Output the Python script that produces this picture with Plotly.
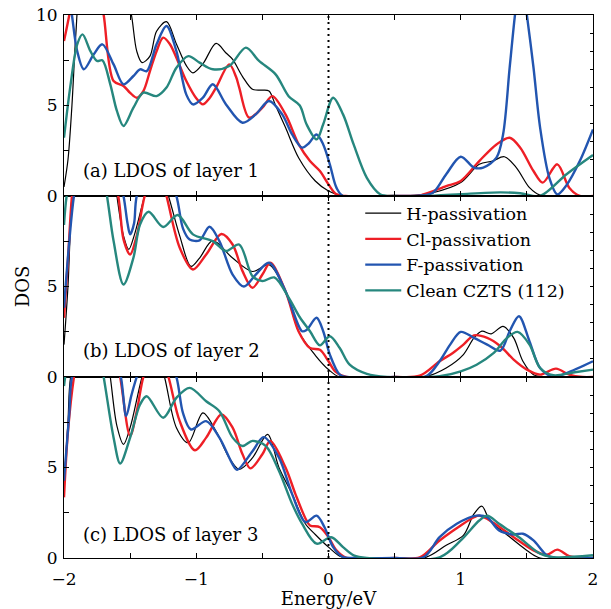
import plotly.graph_objects as go

# ---------------- data ----------------
series_names = ["H-passivation", "Cl-passivation", "F-passivation", "Clean CZTS (112)"]
panel_labels = ["(a) LDOS of layer 1", "(b) LDOS of layer 2", "(c) LDOS of layer 3"]

# Panel (a) layer 1
a_h_x = [-2.0, -1.97, -1.94, -1.91, -1.88, -1.7, -1.55, -1.49, -1.45, -1.41, -1.35, -1.3, -1.225, -1.15, -1.075, -1.025, -0.95, -0.85, -0.775, -0.725, -0.65, -0.575, -0.5, -0.45, -0.4, -0.325, -0.225, -0.1, 0.0, 0.1, 0.2, 0.5, 0.61, 0.79, 1.0, 1.14, 1.24, 1.33, 1.42, 1.52, 1.6, 1.7, 2.0]
a_h_y = [0.5, 2.0, 5.0, 9.0, 11.5, 16.0, 12.0, 10.0, 8.0, 7.37, 7.73, 9.1, 9.63, 8.4, 7.2, 6.8, 7.3, 8.43, 7.9, 7.55, 6.6, 5.9, 5.85, 5.8, 5.0, 3.78, 2.1, 0.83, 0.28, 0.02, 0.0, 0.0, 0.02, 0.18, 0.74, 1.75, 1.93, 2.17, 1.57, 0.46, 0.05, 0.0, 0.0]
a_cl_x = [-2.0, -1.96, -1.9, -1.8, -1.73, -1.7, -1.625, -1.55, -1.5, -1.45, -1.4, -1.35, -1.3, -1.25, -1.2, -1.15, -1.075, -1.0, -0.95, -0.9, -0.85, -0.75, -0.7, -0.675, -0.6, -0.5, -0.425, -0.325, -0.225, -0.14, -0.065, 0.0, 0.06, 0.13, 0.5, 0.7, 0.89, 1.0, 1.14, 1.27, 1.37, 1.45, 1.55, 1.62, 1.73, 1.82, 1.9, 2.0]
a_cl_y = [8.56, 10.0, 12.5, 13.0, 11.0, 10.0, 6.35, 6.08, 5.7, 5.43, 5.8, 6.9, 8.0, 8.75, 8.4, 7.64, 6.35, 5.4, 5.06, 5.4, 5.99, 7.27, 6.6, 5.99, 4.33, 4.88, 5.52, 4.51, 2.85, 1.93, 1.38, 0.64, 0.09, 0.0, 0.0, 0.05, 0.55, 0.83, 1.93, 2.85, 3.22, 2.67, 1.38, 0.74, 1.75, 0.46, 0.0, 0.0]
a_f_x = [-2.0, -1.96, -1.94, -1.9, -1.85, -1.775, -1.71, -1.625, -1.55, -1.475, -1.425, -1.375, -1.3, -1.225, -1.15, -1.075, -1.025, -0.95, -0.875, -0.775, -0.65, -0.55, -0.45, -0.35, -0.275, -0.2, -0.15, -0.09, -0.04, 0.01, 0.06, 0.11, 0.5, 0.7, 0.79, 0.89, 1.0, 1.1, 1.17, 1.27, 1.32, 1.37, 1.41, 1.455, 1.5, 1.55, 1.6, 1.67, 1.73, 1.8, 1.9, 2.0]
a_f_y = [12.0, 11.0, 10.0, 8.0, 7.0, 7.83, 8.38, 7.27, 6.17, 6.63, 7.0, 6.9, 8.38, 9.39, 8.0, 5.6, 5.06, 5.43, 6.17, 5.06, 4.05, 4.51, 5.25, 4.51, 3.4, 2.67, 2.9, 3.4, 2.85, 1.75, 0.46, 0.0, 0.0, 0.03, 0.18, 1.2, 2.17, 1.57, 1.57, 2.12, 3.4, 7.1, 10.0, 12.5, 10.0, 7.1, 3.78, 1.0, 0.09, 0.6, 1.93, 3.68]
a_c_x = [-2.0, -1.95, -1.9, -1.86, -1.8, -1.75, -1.71, -1.65, -1.6, -1.55, -1.475, -1.4, -1.3, -1.225, -1.15, -1.06, -0.975, -0.875, -0.75, -0.625, -0.525, -0.4, -0.3, -0.217, -0.166, -0.09, -0.04, 0.035, 0.11, 0.19, 0.29, 0.39, 0.5, 0.8, 1.0, 1.3, 1.45, 1.6, 1.8, 2.0]
a_c_y = [3.22, 6.17, 8.38, 8.93, 8.0, 7.46, 7.5, 6.17, 4.7, 3.87, 4.88, 5.71, 5.52, 5.99, 7.09, 7.73, 7.37, 7.0, 7.18, 8.2, 7.46, 6.72, 5.5, 5.0, 3.96, 3.13, 3.96, 5.43, 4.51, 2.85, 1.0, 0.1, 0.0, 0.02, 0.1, 0.2, 0.15, 0.0, 1.2, 2.26]

# Panel (b) layer 2
b_h_x = [-2.0, -1.97, -1.94, -1.9, -1.65, -1.6, -1.55, -1.51, -1.47, -1.39, -1.3, -1.21, -1.125, -1.04, -0.975, -0.875, -0.725, -0.575, -0.45, -0.325, -0.225, -0.1, 0.0, 0.085, 0.5, 0.74, 0.89, 1.02, 1.1, 1.16, 1.23, 1.32, 1.4, 1.47, 1.55, 1.65, 2.0]
b_h_y = [1.79, 5.0, 10.0, 13.0, 13.0, 10.0, 7.8, 7.05, 7.8, 10.0, 12.0, 10.0, 7.8, 6.11, 6.57, 7.53, 6.57, 5.83, 6.2, 4.74, 2.5, 1.2, 0.41, 0.0, 0.0, 0.04, 0.5, 1.24, 2.16, 2.53, 2.38, 2.8, 2.16, 0.87, 0.13, 0.0, 0.0]
b_cl_x = [-2.0, -1.97, -1.94, -1.9, -1.7, -1.59, -1.55, -1.5, -1.45, -1.39, -1.3, -1.225, -1.125, -1.025, -0.925, -0.81, -0.725, -0.65, -0.575, -0.5, -0.44, -0.325, -0.225, -0.14, -0.065, 0.0, 0.05, 0.136, 0.5, 0.69, 0.84, 0.94, 1.02, 1.1, 1.2, 1.3, 1.4, 1.5, 1.6, 1.72, 1.82, 1.92, 2.0]
b_cl_y = [3.27, 6.5, 10.0, 12.5, 13.0, 10.0, 7.6, 6.77, 7.8, 10.0, 12.0, 10.0, 7.14, 5.94, 6.77, 7.9, 7.32, 5.85, 4.93, 5.66, 6.31, 4.74, 2.5, 1.6, 1.5, 0.87, 0.31, 0.0, 0.0, 0.07, 0.87, 1.33, 1.79, 2.3, 2.16, 1.7, 0.96, 0.41, 0.13, 0.46, 0.13, 0.0, 0.0]
b_f_x = [-2.0, -1.96, -1.925, -1.85, -1.65, -1.55, -1.52, -1.5, -1.47, -1.45, -1.3, -1.15, -1.1, -1.05, -0.975, -0.9, -0.825, -0.725, -0.64, -0.55, -0.45, -0.325, -0.2, -0.166, -0.09, -0.04, 0.01, 0.085, 0.14, 0.5, 0.74, 0.84, 0.92, 1.0, 1.1, 1.2, 1.3, 1.37, 1.44, 1.52, 1.6, 1.7, 1.8, 2.0]
b_f_y = [3.82, 7.5, 10.0, 13.0, 13.0, 10.0, 8.5, 7.88, 8.5, 10.0, 13.0, 10.0, 8.2, 7.6, 7.55, 8.3, 7.51, 5.66, 5.0, 5.66, 6.31, 4.74, 2.53, 2.6, 3.27, 2.53, 1.24, 0.13, 0.0, 0.0, 0.05, 0.87, 1.79, 2.49, 2.16, 1.79, 1.46, 2.53, 3.36, 1.97, 0.5, 0.0, 0.22, 0.87]
b_c_x = [-2.0, -1.98, -1.9, -1.75, -1.675, -1.625, -1.55, -1.475, -1.425, -1.36, -1.25, -1.14, -1.025, -0.875, -0.775, -0.675, -0.575, -0.5, -0.41, -0.3, -0.217, -0.14, -0.065, 0.01, 0.085, 0.16, 0.29, 0.44, 0.84, 1.0, 1.12, 1.25, 1.35, 1.43, 1.52, 1.6, 1.7, 1.85, 2.0]
b_c_y = [8.4, 10.0, 13.0, 13.0, 10.0, 7.51, 5.11, 6.59, 8.43, 9.13, 8.29, 8.95, 7.88, 7.51, 6.96, 7.32, 5.57, 5.3, 5.5, 4.37, 3.3, 2.53, 1.75, 2.25, 1.6, 0.68, 0.17, 0.0, 0.04, 0.31, 0.68, 1.33, 2.16, 2.49, 1.79, 0.5, 0.1, 0.25, 0.41]

# Panel (c) layer 3
c_h_x = [-2.0, -1.97, -1.95, -1.85, -1.7, -1.65, -1.6, -1.55, -1.5, -1.41, -1.32, -1.24, -1.15, -1.06, -0.95, -0.85, -0.75, -0.675, -0.575, -0.46, -0.375, -0.275, -0.175, -0.1, 0.0, 0.085, 0.15, 0.5, 0.74, 0.89, 1.02, 1.1, 1.16, 1.22, 1.34, 1.5, 1.6, 2.0]
c_h_y = [4.0, 7.5, 10.0, 13.0, 12.5, 10.0, 7.3, 6.28, 7.2, 10.0, 12.0, 10.0, 7.2, 6.37, 8.02, 7.0, 5.53, 4.9, 5.53, 6.83, 5.0, 3.53, 1.89, 1.3, 0.6, 0.1, 0.0, 0.0, 0.05, 0.7, 1.25, 2.44, 2.86, 2.07, 1.34, 0.42, 0.0, 0.0]
c_cl_x = [-2.0, -1.97, -1.925, -1.85, -1.65, -1.575, -1.5, -1.45, -1.4, -1.3, -1.21, -1.125, -1.01, -0.925, -0.81, -0.725, -0.65, -0.59, -0.5, -0.44, -0.325, -0.25, -0.175, -0.14, -0.065, 0.0, 0.06, 0.136, 0.5, 0.69, 0.84, 1.0, 1.1, 1.14, 1.24, 1.4, 1.55, 1.65, 1.73, 1.82, 1.92, 2.0]
c_cl_y = [3.35, 7.0, 10.0, 13.0, 13.0, 10.0, 6.74, 8.1, 10.0, 12.0, 10.0, 7.56, 5.95, 6.65, 7.93, 7.2, 5.73, 4.95, 5.73, 6.46, 5.0, 3.53, 2.2, 1.8, 1.7, 1.15, 0.42, 0.0, 0.0, 0.03, 0.97, 1.8, 2.25, 2.34, 1.98, 1.15, 0.42, 0.18, 0.46, 0.1, 0.0, 0.0]
c_f_x = [-2.0, -1.96, -1.94, -1.8, -1.65, -1.57, -1.53, -1.49, -1.45, -1.3, -1.15, -1.1, -1.04, -0.925, -0.825, -0.725, -0.69, -0.575, -0.49, -0.375, -0.275, -0.175, -0.09, -0.03, 0.035, 0.11, 0.2, 0.5, 0.72, 0.84, 0.97, 1.12, 1.2, 1.29, 1.4, 1.47, 1.55, 1.65, 1.72, 2.0]
c_f_y = [4.27, 8.0, 10.0, 13.0, 12.0, 10.0, 7.84, 9.0, 10.0, 13.0, 10.0, 8.0, 7.1, 7.56, 6.65, 5.18, 4.87, 5.9, 6.68, 5.55, 3.53, 1.98, 2.34, 1.7, 0.6, 0.05, 0.0, 0.0, 0.05, 1.15, 1.89, 2.34, 2.25, 1.52, 1.3, 1.34, 0.97, 0.15, 0.0, 0.0]
c_c_x = [-2.0, -1.97, -1.9, -1.75, -1.7, -1.625, -1.575, -1.5, -1.425, -1.375, -1.25, -1.15, -1.05, -0.925, -0.825, -0.725, -0.65, -0.575, -0.475, -0.375, -0.275, -0.2, -0.09, 0.02, 0.11, 0.19, 0.29, 0.84, 1.0, 1.14, 1.2, 1.29, 1.44, 1.6, 1.7, 2.0]
c_c_y = [9.5, 11.0, 13.0, 12.0, 10.0, 6.65, 5.22, 6.65, 8.48, 8.94, 7.75, 8.85, 9.4, 8.66, 8.11, 6.65, 6.19, 6.47, 6.19, 4.82, 2.99, 1.9, 0.79, 1.15, 0.6, 0.15, 0.0, 0.04, 0.97, 2.07, 2.34, 1.89, 1.15, 0.24, 0.05, 0.15]

panels = [
    [(a_h_x, a_h_y), (a_cl_x, a_cl_y), (a_f_x, a_f_y), (a_c_x, a_c_y)],
    [(b_h_x, b_h_y), (b_cl_x, b_cl_y), (b_f_x, b_f_y), (b_c_x, b_c_y)],
    [(c_h_x, c_h_y), (c_cl_x, c_cl_y), (c_f_x, c_f_y), (c_c_x, c_c_y)],
]

# ---------------- style ----------------
colors = ["#000000", "#ee1f26", "#2255b0", "#26877e"]
widths = [1.2, 2.4, 2.4, 2.4]
FONT = "DejaVu Serif"
FS_TICK = 17
FS_TEXT = 18
FS_LEG = 17.5

fig = go.Figure()
for p, series in enumerate(panels):
    ax = str(p + 1)
    for s, (xs, ys) in enumerate(series):
        fig.add_trace(go.Scatter(
            x=xs, y=ys, mode="lines", name=series_names[s],
            line=dict(color=colors[s], width=widths[s], shape="spline", smoothing=0.9),
            xaxis="x" + ax, yaxis="y" + ax,
            legendgroup=series_names[s], showlegend=(p == 0),
        ))
    fig.add_trace(go.Scatter(x=[], y=[], xaxis="x" + ax, yaxis="y" + str(p + 4),
                             showlegend=False, hoverinfo="skip"))

doms = [[2/3, 1.0], [1/3, 2/3], [0.0, 1/3]]
layout = dict(
    width=611, height=609,
    margin=dict(l=64, r=18, t=15, b=51),
    paper_bgcolor="white", plot_bgcolor="white",
    font=dict(family=FONT, size=FS_TICK, color="black"),
    showlegend=True,
    legend=dict(x=0.56, y=0.668, xanchor="left", yanchor="top",
                bgcolor="rgba(0,0,0,0)", borderwidth=0,
                font=dict(family=FONT, size=FS_LEG), tracegroupgap=0, itemwidth=36),
)
for p in range(3):
    ax = str(p + 1)
    xa = dict(range=[-2, 2], domain=[0, 1], anchor="y" + ax, automargin=False,
              showline=True, linecolor="black", linewidth=1, mirror="ticks",
              ticks="inside", tickwidth=1, ticklen=5, tickcolor="black",
              tickvals=[-2, -1.5, -1, -0.5, 0, 0.5, 1, 1.5, 2],
              ticktext=["\u22122", "", "\u22121", "", "0", "", "1", "", "2"],
              showgrid=False, zeroline=False, showticklabels=(p == 2),
              ticklabelstandoff=6,
              tickfont=dict(family=FONT, size=FS_TICK))
    if p > 0:
        xa["matches"] = "x"
    if p == 2:
        xa["title"] = dict(text="Energy/eV", font=dict(family=FONT, size=FS_TEXT), standoff=5)
    layout["xaxis" + ("" if p == 0 else ax)] = xa
    ya = dict(range=[0, 10], domain=doms[p], anchor="x" + ax, automargin=False,
              showline=True, linecolor="black", linewidth=1, mirror=True,
              ticks="inside", tickwidth=1, ticklen=5, tickcolor="black",
              tickvals=[0, 2.5, 5, 7.5, 10] if p == 0 else [0, 2.5, 5, 7.5],
              ticktext=["0", "", "5", "", "10"] if p == 0 else ["0", "", "5", ""],
              showgrid=False, zeroline=False, ticklabelstandoff=2,
              tickfont=dict(family=FONT, size=FS_TICK))
    if p == 1:
        ya["title"] = dict(text="DOS", font=dict(family=FONT, size=FS_TEXT), standoff=12)
    layout["yaxis" + ("" if p == 0 else ax)] = ya
    layout["yaxis" + str(p + 4)] = dict(
        range=[0, 10], domain=doms[p], anchor="x" + ax, overlaying="y" + ("" if p == 0 else ax),
        side="right", showline=False, ticks="inside", ticklen=3, tickwidth=1,
        tickcolor="black", dtick=1, tick0=0, showticklabels=False, automargin=False,
        showgrid=False, zeroline=False)

fig.update_layout(**layout)
fig.layout.xaxis.anchor = "y"
fig.layout.yaxis.anchor = "x"

# dotted Fermi level line
fig.add_shape(type="line", xref="x", yref="paper", x0=0, x1=0, y0=0, y1=1,
              line=dict(color="black", width=2, dash="2px,4px"), layer="above")

# panel labels
label_y = [1.4, 1.45, 1.3]
for p in range(3):
    ax = str(p + 1)
    fig.add_annotation(text=panel_labels[p], x=-1.875, y=label_y[p],
                       xref="x" + ax, yref="y" + ax, xanchor="left", yanchor="middle",
                       showarrow=False, font=dict(family=FONT, size=FS_TEXT))

fig.write_html("out.html")
